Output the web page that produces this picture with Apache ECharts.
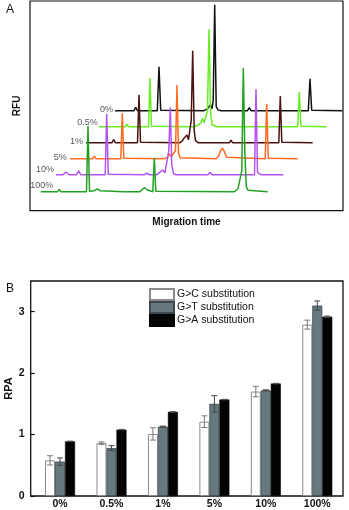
<!DOCTYPE html>
<html>
<head>
<meta charset="utf-8">
<script src="https://cdn.jsdelivr.net/npm/echarts@6.0.0/dist/echarts.min.js"></script>
<style>
  html, body { margin: 0; padding: 0; background: #fff; }
  #main { width: 349px; height: 510px; }
</style>
</head>
<body>
<div id="main"></div>
<script>
// ---- panel A: electropherogram traces (migration time, RFU) ----
const traceNames = ['0%', '0.5%', '1%', '5%', '10%', '100%'];
const traceColors = ['#111111', '#66ee22', '#4a1212', '#ff6a1f', '#b452f0', '#22a022'];

const trace0 = [[85,100],[104,100],[105.7,103.4],[107.5,100],[127.3,100],[129,144],[130.7,100.5],[132,100],
  [174,100],[177,101.5],[179,103],[180.5,106],[182,102],[183.2,110],[184.7,206],[186.2,104],[188,100.8],[191,100],
  [217.5,100],[219.3,103],[221,100],[278.3,100],[280,132],[281.7,100.5],[283,100],[312.3,100]];
const trace05 = [[69,84],[95.5,84],[97,86.7],[98.5,84],[118.5,84],[120,132.7],[121.5,84.5],[123,84],
  [164,84],[168,85.5],[171,88],[172.5,92.5],[174,88],[176,90],[177.5,100],[179,181.4],[180.5,100],[182,86],[184,84.5],[187,84],
  [267.7,84],[269.3,118.7],[271,84.5],[272.5,84],[296.7,84]];
const trace1 = [[56,68],[82,68],[83.7,71],[85.3,68],[107.5,68],[109,116],[110.5,68.5],[112,68],
  [150,68],[152.5,70],[154,72.5],[155.5,71],[157,75.7],[158.5,71],[160,72],[161.2,90],[162.7,160],[164.2,80],[165.5,70],[168,68],
  [199.5,68],[201,70.5],[202.5,68],[248.8,68],[250.3,114.7],[251.8,68.5],[253.3,68],[282.7,68]];
const trace5 = [[40,52],[62.5,52],[64.3,54.5],[66,52],[90.8,52],[92.3,97.4],[93.8,52.5],[95.3,52],
  [135,52],[137.5,53.5],[139.3,56.7],[141,54],[143,53],[145.5,60],[147,125.7],[148.5,58],[150,53],[152,52],
  [186,52],[188.5,54.5],[190.5,60],[192.3,62.4],[194.3,59.5],[196.5,53.5],[198.5,52],
  [235.2,52],[236.7,106.7],[238.2,52.5],[239.7,52],[267.7,52]];
const trace10 = [[26,36],[33,36],[36,38.7],[39,36],[46.5,36],[48.7,39.7],[50.7,36],[75.2,36],[76.7,96.7],[78.2,36.5],[79.7,36],
  [114.5,36],[116.7,37.6],[119,36],[127,36],[130,38.5],[132.7,40.7],[135,38],[136.5,38],[138.8,60],[140.3,103.4],[141.8,45],[143.5,37],[146,36],
  [178,36],[180,38.3],[182,36],[224.5,36],[226,121.4],[227.5,38],[229.5,36.5],[231,36],[253.3,36]];
const trace100 = [[10.7,19],[27.5,19],[29.3,21.3],[31,19],[56.5,19],[58,84.7],[59.5,19.5],[61,19],[64.5,20],[67.3,21.8],[70,20],[72,19],
  [94,19],[95.7,20.3],[97.5,19],[110,19],[112.5,21.5],[114.7,23],[117,21],[119,19.5],[122.8,19],[124.3,52.7],[125.8,19.5],[127.5,19],
  [204.5,19],[206.5,21],[208,22],[209.5,21],[211.8,40],[213.3,142.7],[214.8,60],[216.3,24],[218,20.5],[220,19],[237.7,19]];
const traces = [trace0, trace05, trace1, trace5, trace10, trace100];
// where each trace's name sits (right end of the text)
const traceLabelAt = [[83,100.7],[67.7,87.7],[53,68.7],[36.7,52.7],[24,40.7],[23.3,24.7]];

// ---- panel B: RPA bars ----
const categories = ['0%', '0.5%', '1%', '5%', '10%', '100%'];
const gcValues = [0.58, 0.86, 1.01, 1.21, 1.70, 2.79];
const gcErrors = [0.075, 0.02, 0.1, 0.095, 0.085, 0.073];
const gtValues = [0.56, 0.78, 1.13, 1.50, 1.72, 3.10];
const gtErrors = [0.06, 0.04, 0.008, 0.133, 0.008, 0.075];
const gaValues = [0.89, 1.08, 1.37, 1.57, 1.83, 2.92];
const gaErrors = [0.004, 0.004, 0.004, 0.004, 0.004, 0.01];

const FONT = 'Liberation Sans, Arial, sans-serif';
const chart = echarts.init(document.getElementById('main'), null, { renderer: 'canvas' });

// bars sit on a value axis (category index as x) so the first/last groups keep their offsets from the frame
const withIndex = arr => arr.map((v, i) => [i, v]);

function errorSeries(name, values, errors, offset, color) {
  return {
    name: name,
    type: 'custom',
    xAxisIndex: 1,
    yAxisIndex: 1,
    z: 5,
    data: values.map((v, i) => [i, v, errors[i]]),
    renderItem: (params, api) => {
      const i = api.value(0), v = api.value(1), e = api.value(2);
      const hi = api.coord([i, v + e]);
      const lo = api.coord([i, v - e]);
      const x = hi[0] + offset;
      const style = { stroke: color, lineWidth: 1 };
      return {
        type: 'group',
        children: [
          { type: 'line', shape: { x1: x, y1: hi[1], x2: x, y2: lo[1] }, style: style },
          { type: 'line', shape: { x1: x - 3, y1: hi[1], x2: x + 3, y2: hi[1] }, style: style },
          { type: 'line', shape: { x1: x - 3, y1: lo[1], x2: x + 3, y2: lo[1] }, style: style }
        ]
      };
    }
  };
}

const series = [];
traces.forEach((t, k) => {
  series.push({
    name: traceNames[k],
    type: 'line',
    xAxisIndex: 0,
    yAxisIndex: 0,
    data: t,
    showSymbol: false,
    symbol: 'none',
    silent: true,
    lineStyle: { color: traceColors[k], width: 1.5 },
    z: 2 + k
  });
  series.push({
    name: 'lbl' + k,
    type: 'scatter',
    xAxisIndex: 0,
    yAxisIndex: 0,
    symbolSize: 0,
    data: [traceLabelAt[k]],
    label: {
      show: true,
      position: 'left',
      distance: 0,
      formatter: traceNames[k],
      color: '#2e2e2e',
      fontFamily: FONT,
      fontSize: 9
    }
  });
});

series.push({
  name: 'G>C substitution', type: 'bar', xAxisIndex: 1, yAxisIndex: 1,
  data: withIndex(gcValues), barWidth: 10, barGap: '0%',
  itemStyle: { color: '#ffffff', borderColor: '#8a8a8a', borderWidth: 1 }
});
series.push({
  name: 'G>T substitution', type: 'bar', xAxisIndex: 1, yAxisIndex: 1,
  data: withIndex(gtValues), barWidth: 10, barGap: '0%',
  itemStyle: { color: '#66797f', borderColor: '#3c484d', borderWidth: 0.8 }
});
series.push({
  name: 'G>A substitution', type: 'bar', xAxisIndex: 1, yAxisIndex: 1,
  data: withIndex(gaValues), barWidth: 10, barGap: '0%',
  itemStyle: { color: '#030303', borderColor: '#000', borderWidth: 0.5 }
});
series.push(errorSeries('errGC', gcValues, gcErrors, -10, '#777'));
series.push(errorSeries('errGT', gtValues, gtErrors, 0, '#444'));
series.push(errorSeries('errGA', gaValues, gaErrors, 10, '#555'));

const option = {
  backgroundColor: '#fff',
  animation: false,
  textStyle: { fontFamily: FONT },
  grid: [
    { left: 30, right: 6, top: 1, bottom: 299.3, outerBoundsMode: 'none', show: true, borderColor: '#111', borderWidth: 1.2, backgroundColor: 'transparent' },
    { left: 30.7, right: 6, top: 281, bottom: 14, outerBoundsMode: 'none', show: true, borderColor: '#111', borderWidth: 1.3, backgroundColor: 'transparent' }
  ],
  xAxis: [
    {
      gridIndex: 0, type: 'value', min: 0, max: 313,
      name: 'Migration time', nameLocation: 'middle', nameGap: 7, nameMoveOverlap: false,
      nameTextStyle: { fontWeight: 'bold', fontSize: 10, color: '#111', fontFamily: FONT, verticalAlign: 'top' },
      axisLine: { show: false }, axisTick: { show: false }, axisLabel: { show: false }, splitLine: { show: false }
    },
    {
      gridIndex: 1, type: 'value', min: -0.57, max: 5.5,
      axisLine: { show: false, onZero: false }, axisTick: { show: false }, splitLine: { show: false },
      axisLabel: {
        customValues: [0, 1, 2, 3, 4, 5],
        formatter: v => categories[Math.round(v)],
        fontWeight: 'bold', fontSize: 10.5, color: '#111', fontFamily: FONT, margin: 3
      }
    }
  ],
  yAxis: [
    {
      gridIndex: 0, type: 'value', min: 0, max: 209.7,
      name: 'RFU', nameLocation: 'middle', nameGap: 8, nameMoveOverlap: false,
      nameTextStyle: { fontWeight: 'bold', fontSize: 10, color: '#111', fontFamily: FONT },
      axisLine: { show: false, onZero: false }, axisTick: { show: false }, axisLabel: { show: false }, splitLine: { show: false }
    },
    {
      gridIndex: 1, type: 'value', min: 0, max: 3.5, interval: 1,
      name: 'RPA', nameLocation: 'middle', nameGap: 16, nameMoveOverlap: false,
      nameTextStyle: { fontWeight: 'bold', fontSize: 11, color: '#111', fontFamily: FONT },
      axisLine: { show: false, onZero: false },
      axisTick: { show: true, inside: true, length: 4, lineStyle: { color: '#111', width: 1.2 } },
      axisLabel: {
        fontWeight: 'bold', fontSize: 10.5, color: '#111', fontFamily: FONT, margin: 6,
        showMaxLabel: false,
        formatter: v => (v % 1 === 0 ? String(v) : '')
      },
      splitLine: { show: false }
    }
  ],
  legend: {
    data: ['G>C substitution', 'G>T substitution', 'G>A substitution'],
    orient: 'vertical',
    left: 149, top: 288,
    itemWidth: 24, itemHeight: 11, itemGap: 0,
    icon: 'rect',
    padding: 0,
    selectedMode: false,
    textStyle: { fontSize: 10.5, color: '#111', fontFamily: FONT, padding: [0, 0, 0, -2] }
  },
  graphic: [
    { type: 'text', left: 6, top: 4, style: { text: 'A', fontSize: 12, fill: '#111', fontFamily: FONT } },
    { type: 'text', left: 6, top: 283, style: { text: 'B', fontSize: 12, fill: '#111', fontFamily: FONT } }
  ],
  series: series
};
chart.setOption(option);
</script>
</body>
</html>
